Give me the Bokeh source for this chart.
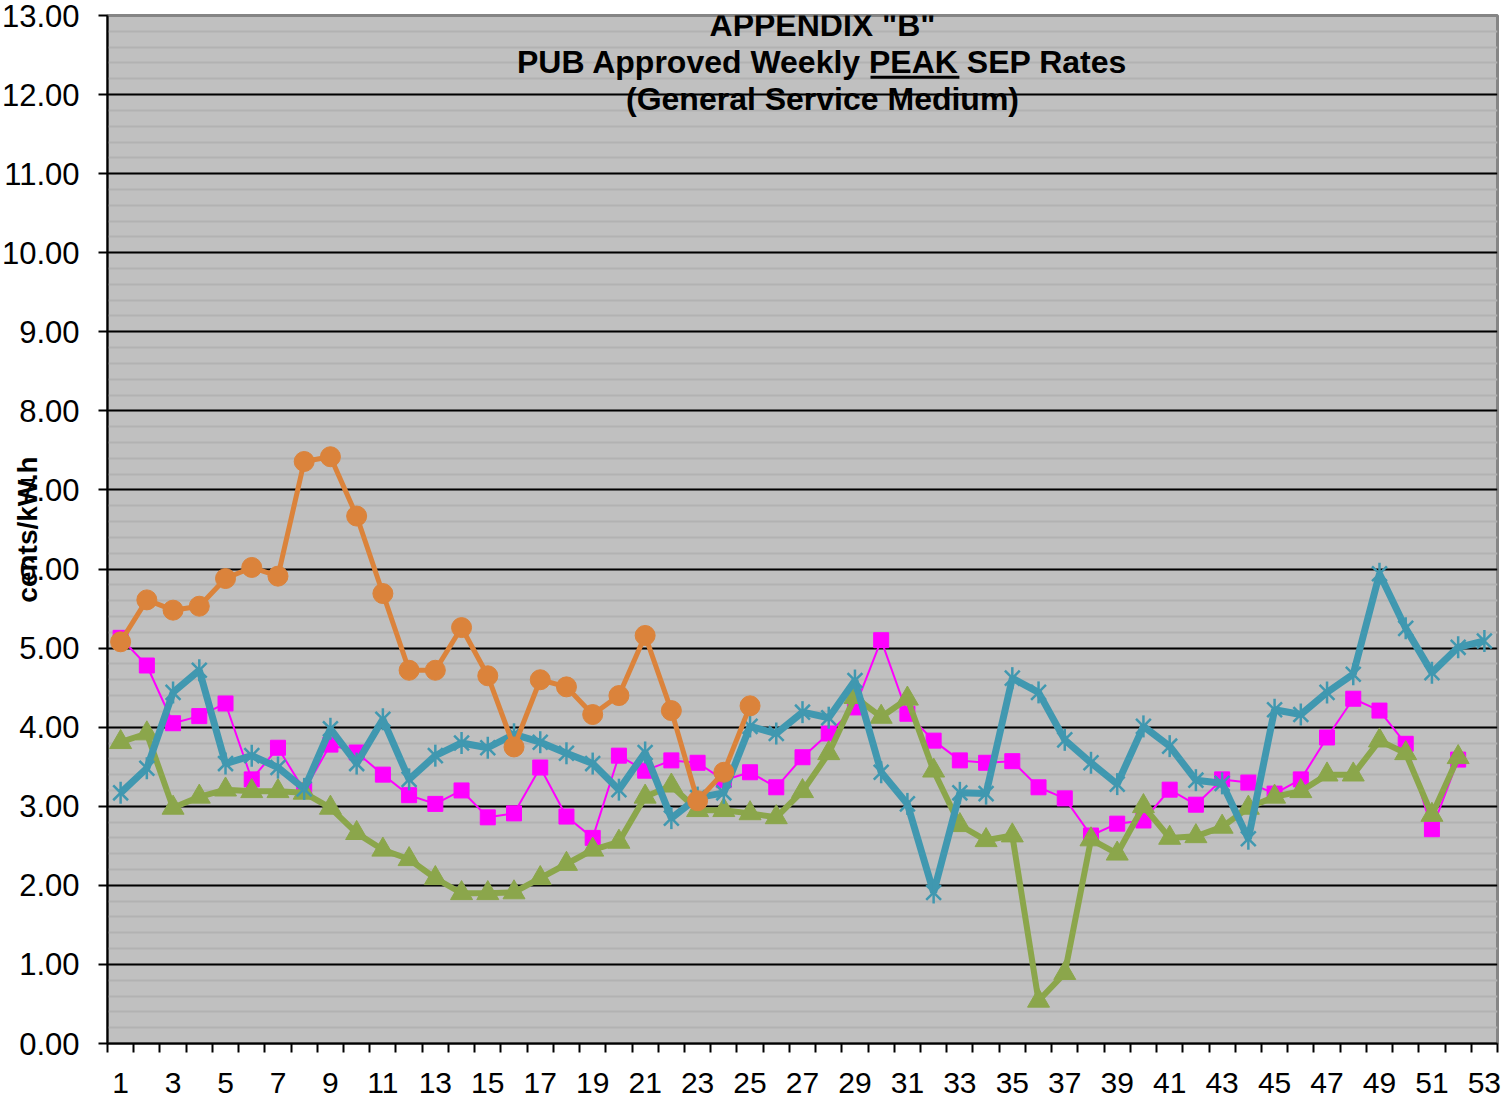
import math
from bokeh.plotting import figure
from bokeh.models import FixedTicker, NumeralTickFormatter, Label
from bokeh.embed import file_html
from bokeh.resources import INLINE

weeks = list(range(1, 54))
week_labels = [str(w) for w in range(1, 54, 2)]

orange_vals = [5.08, 5.61, 5.48, 5.53, 5.88, 6.02, 5.91, 7.36, 7.42, 6.67, 5.69, 4.72, 4.72,
               5.26, 4.65, 3.75, 4.60, 4.51, 4.16, 4.40, 5.16, 4.21, 3.07, 3.43, 4.27]
magenta_vals = [5.13, 4.78, 4.05, 4.14, 4.30, 3.34, 3.74, 3.20, 3.78, 3.68, 3.40, 3.14, 3.03,
                3.20, 2.86, 2.91, 3.49, 2.87, 2.60, 3.64, 3.45, 3.58, 3.55, 3.33, 3.43, 3.24,
                3.62, 3.92, 4.25, 5.10, 4.17, 3.83, 3.58, 3.55, 3.57, 3.24, 3.10, 2.63, 2.78,
                2.82, 3.21, 3.02, 3.34, 3.30, 3.16, 3.34, 3.87, 4.36, 4.21, 3.79, 2.71, 3.59]
teal_vals = [3.17, 3.48, 4.44, 4.72, 3.54, 3.64, 3.49, 3.22, 3.98, 3.54, 4.10, 3.34, 3.64,
             3.80, 3.74, 3.91, 3.81, 3.67, 3.54, 3.21, 3.68, 2.85, 3.11, 3.17, 4.01, 3.92,
             4.19, 4.12, 4.59, 3.43, 3.03, 1.91, 3.17, 3.16, 4.62, 4.44, 3.84, 3.55, 3.28,
             4.01, 3.76, 3.33, 3.29, 2.59, 4.22, 4.16, 4.44, 4.67, 5.94, 5.25, 4.69, 5.01, 5.09]
green_vals = [3.81, 3.92, 2.98, 3.12, 3.21, 3.19, 3.19, 3.17, 2.98, 2.66, 2.45, 2.33, 2.09,
              1.90, 1.90, 1.91, 2.09, 2.27, 2.45, 2.55, 3.12, 3.26, 2.95, 2.95, 2.91, 2.86,
              3.19, 3.67, 4.38, 4.13, 4.36, 3.45, 2.76, 2.57, 2.63, 0.54, 0.89, 2.58, 2.40,
              3.00, 2.60, 2.62, 2.74, 2.98, 3.12, 3.19, 3.40, 3.40, 3.83, 3.67, 2.89, 3.62]

title_lines = ['APPENDIX "B"', 'PUB Approved Weekly PEAK SEP Rates', '(General Service Medium)']
y_label = "cents/kW.h"

FONT = "Liberation Sans"
FRAME_L, FRAME_W = 107, 1390
STEP = FRAME_W / 53.0


def px_to_x(px):
    return 0.5 + (px - FRAME_L) / STEP


p = figure(width=1505, height=1102, x_range=(0.5, 53.5), y_range=(0, 13),
           output_backend="svg", toolbar_location=None,
           min_border_left=107, min_border_right=8, min_border_top=15, min_border_bottom=59)
p.background_fill_color = "#C0C0C0"
p.border_fill_color = "white"
p.outline_line_color = "#858585"
p.outline_line_width = 3

# axes
p.xaxis.ticker = FixedTicker(ticks=list(range(1, 54, 2)),
                             minor_ticks=[w - 0.5 for w in range(1, 55)])
p.xaxis.major_label_overrides = {int(s): s for s in week_labels}
p.xaxis.major_tick_out = 0
p.xaxis.major_tick_in = 0
p.xaxis.minor_tick_out = 9
p.xaxis.minor_tick_in = 0
p.xaxis.minor_tick_line_color = "black"
p.xaxis.minor_tick_line_width = 2
p.xaxis.major_label_standoff = 20
p.xaxis.major_label_text_font = FONT
p.xaxis.major_label_text_font_size = "30px"
p.xaxis.major_label_text_color = "black"
p.xaxis.axis_line_color = "black"
p.xaxis.axis_line_width = 2

p.yaxis.ticker = FixedTicker(ticks=list(range(0, 14)),
                             minor_ticks=[round(i * 0.2, 1) for i in range(0, 66)])
p.yaxis.formatter = NumeralTickFormatter(format="0.00")
p.yaxis.major_tick_out = 9
p.yaxis.major_tick_in = 0
p.yaxis.major_tick_line_width = 2
p.yaxis.major_tick_line_color = "black"
p.yaxis.minor_tick_line_color = None
p.yaxis.major_label_standoff = 19
p.yaxis.major_label_text_font = FONT
p.yaxis.major_label_text_font_size = "31px"
p.yaxis.major_label_text_color = "black"
p.yaxis.axis_line_color = "black"
p.yaxis.axis_line_width = 2
p.yaxis.axis_label = y_label
p.yaxis.axis_label_standoff = -44
p.yaxis.axis_label_text_font = FONT
p.yaxis.axis_label_text_font_size = "28px"
p.yaxis.axis_label_text_font_style = "bold"
p.yaxis.axis_label_text_color = "black"

p.xgrid.grid_line_color = None
p.ygrid.grid_line_color = "black"
p.ygrid.grid_line_width = 2
p.ygrid.minor_grid_line_color = "#B2B2B2"
p.ygrid.minor_grid_line_width = 2

# series (bottom to top)
mw = weeks[:len(magenta_vals)]
p.line(mw, magenta_vals, line_color="#FF00FF", line_width=2)
p.scatter(mw, magenta_vals, marker="square", size=15, fill_color="#FF00FF", line_color="#FF00FF")

gw = weeks[:len(green_vals)]
p.line(gw, green_vals, line_color="#8BA64B", line_width=6)
p.scatter(gw, green_vals, marker="triangle", size=22, fill_color="#8BA64B", line_color="#8BA64B")

tw = weeks[:len(teal_vals)]
p.line(tw, teal_vals, line_color="#4098B0", line_width=7)
p.scatter(tw, teal_vals, marker="x", size=21, line_color="#4098B0", line_width=2.5)
p.scatter(tw, teal_vals, marker="dash", size=22, angle=math.pi / 2, line_color="#4098B0", line_width=2.5)

ow = weeks[:len(orange_vals)]
p.line(ow, orange_vals, line_color="#DB833B", line_width=5)
p.scatter(ow, orange_vals, marker="circle", size=20, fill_color="#DB833B", line_color="#DB833B")

# title inside plot
fs = 32.0
title_x = px_to_x(822)
for txt, ty in zip(title_lines, [12.886, 12.418, 11.950]):
    p.add_layout(Label(x=title_x, y=ty, text=txt, text_align="center", text_baseline="middle",
                       text_font=FONT, text_font_size=f"{int(fs)}px", text_font_style="bold",
                       text_color="black"))
# underline under PEAK
total_em = 19.116
start_px = 822 - total_em * fs / 2
u0 = px_to_x(start_px + 11.058 * fs)
u1 = px_to_x(start_px + 13.836 * fs)
p.line([u0, u1], [12.22, 12.22], line_color="black", line_width=3)

open("out.html", "w").write(file_html(p, INLINE))
